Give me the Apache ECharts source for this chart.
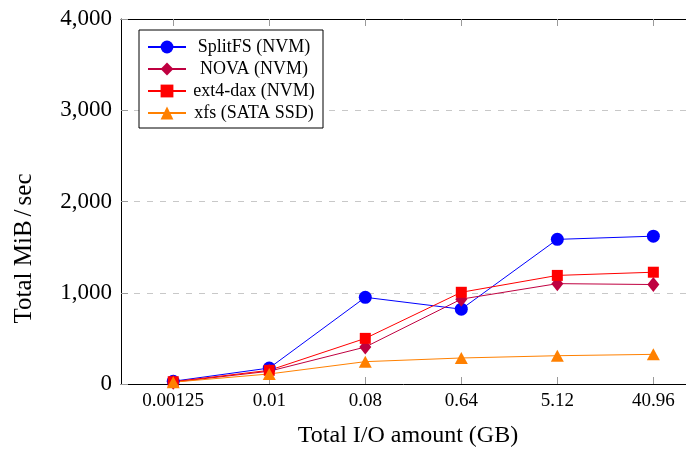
<!DOCTYPE html>
<html>
<head>
<meta charset="utf-8">
<script src="https://cdn.jsdelivr.net/npm/echarts@6/dist/echarts.min.js"></script>
<style>
html,body{margin:0;padding:0;background:#fff;}
#chart{width:686px;height:453px;}
</style>
</head>
<body>
<div id="chart"></div>
<script>
const categories = ['0.00125', '0.01', '0.08', '0.64', '5.12', '40.96'];
const splitfs = [30, 175, 950, 820, 1585, 1620];
const nova = [20, 140, 405, 930, 1100, 1090];
const ext4dax = [25, 150, 500, 1005, 1190, 1225];
const xfs = [20, 110, 245, 285, 310, 325];
const yTicks = [0, 1000, 2000, 3000, 4000];
const seriesNames = ['SplitFS (NVM)', 'NOVA (NVM)', 'ext4-dax (NVM)', 'xfs (SATA SSD)'];

const FONT = '"Liberation Serif", "Times New Roman", serif';
const idx = categories.map((c, i) => i);
const toPairs = arr => arr.map((v, i) => [i, v]);

const chart = echarts.init(document.getElementById('chart'), null, {renderer: 'canvas'});

const tickStyle = {show: true, inside: true, length: 7, lineStyle: {color: '#9a9a9a', width: 1}, customValues: idx};
const X_MIN = -0.544, X_MAX = 5.34;

const option = {
  animation: false,
  backgroundColor: '#fff',
  grid: {left: 121, top: 19, right: 0, bottom: 66, containLabel: false},
  legend: {
    orient: 'vertical',
    left: 139, top: 30,
    backgroundColor: '#fff',
    borderColor: '#000', borderWidth: 1,
    padding: [8, 6, 6, 8],
    itemWidth: 38, itemHeight: 16, itemGap: 4,
    textStyle: {
      fontFamily: FONT, fontSize: 18, color: '#000', lineHeight: 17.5,
      rich: {a: {width: 126, align: 'center', fontFamily: FONT, fontSize: 18, color: '#000'}}
    },
    formatter: n => '{a|' + n + '}',
    data: seriesNames
  },
  xAxis: [
    {
      type: 'value', min: X_MIN, max: X_MAX, position: 'bottom',
      axisLine: {show: true, onZero: false, lineStyle: {color: '#000', width: 1}},
      axisTick: tickStyle,
      axisLabel: {customValues: idx, formatter: v => categories[Math.round(v)], fontFamily: FONT, fontSize: 19, color: '#000', margin: 8},
      splitLine: {show: false},
      name: 'Total I/O amount (GB)', nameLocation: 'middle', nameGap: 40,
      nameTextStyle: {fontFamily: FONT, fontSize: 24, color: '#000', padding: [0, 0, 0, 9]}
    },
    {
      type: 'value', min: X_MIN, max: X_MAX, position: 'top',
      axisLine: {show: true, onZero: false, lineStyle: {color: '#000', width: 1}},
      axisTick: tickStyle,
      axisLabel: {show: false},
      splitLine: {show: false}
    }
  ],
  yAxis: {
    type: 'value', min: 0, max: 4000, interval: 1000,
    axisLine: {show: true, onZero: false, lineStyle: {color: '#000', width: 1}},
    axisTick: {show: true, inside: true, length: 7, lineStyle: {color: '#9a9a9a', width: 1}},
    axisLabel: {
      customValues: yTicks,
      formatter: v => v.toLocaleString('en-US'),
      fontFamily: FONT, fontSize: 23, color: '#000', margin: 9
    },
    splitLine: {show: true, lineStyle: {color: '#c8c8c8', width: 1, type: [6, 7]}},
    name: '{t|Total MiB}{s|/}{t|sec}', nameLocation: 'middle', nameGap: 84,
    nameTextStyle: {
      fontFamily: FONT, fontSize: 25, color: '#000', padding: [0, 94, 0, 0],
      rich: {
        t: {fontFamily: FONT, fontSize: 25, color: '#000'},
        s: {fontFamily: FONT, fontSize: 25, color: '#000', padding: [0, 4, 0, 4]}
      }
    }
  },
  series: [
    {name: seriesNames[0], type: 'line', data: toPairs(splitfs), symbol: 'circle', symbolSize: 13,
     itemStyle: {color: '#0000ff'}, lineStyle: {color: '#0000ff', width: 1}},
    {name: seriesNames[1], type: 'line', data: toPairs(nova), symbol: 'diamond', symbolSize: [12, 15],
     itemStyle: {color: '#bf0040'}, lineStyle: {color: '#bf0040', width: 1}},
    {name: seriesNames[2], type: 'line', data: toPairs(ext4dax), symbol: 'rect', symbolSize: 11,
     itemStyle: {color: '#ff0000'}, lineStyle: {color: '#ff0000', width: 1}},
    {name: seriesNames[3], type: 'line', data: toPairs(xfs), symbol: 'triangle', symbolSize: [13, 12],
     itemStyle: {color: '#ff8000'}, lineStyle: {color: '#ff8000', width: 1}}
  ]
};
chart.setOption(option);
</script>
</body>
</html>
